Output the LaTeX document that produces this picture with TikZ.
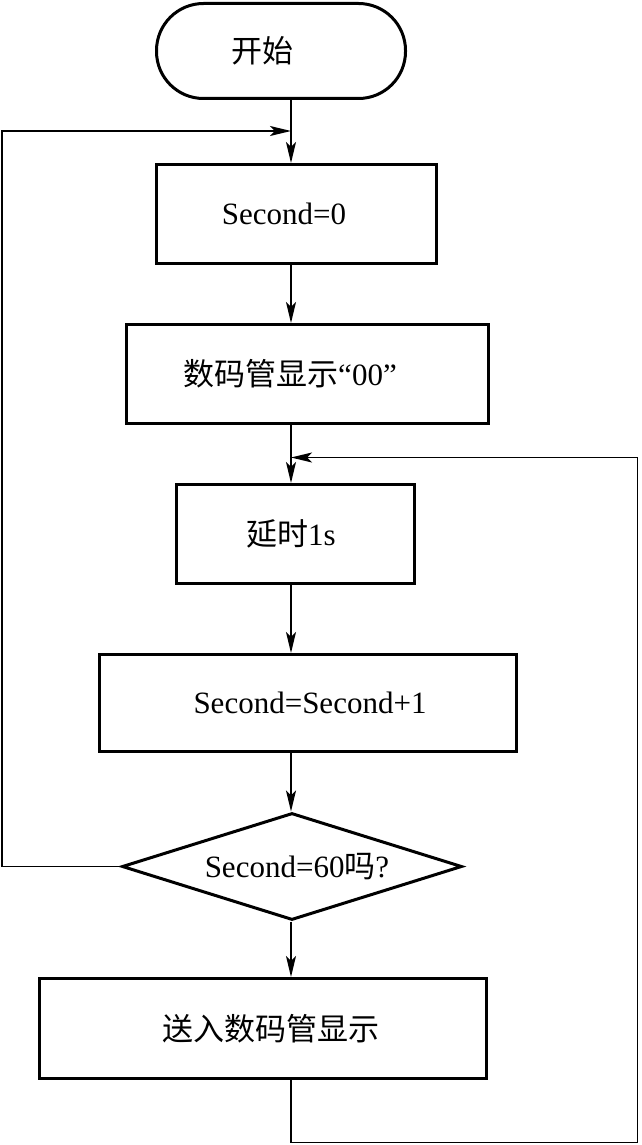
\documentclass[tikz,border=0pt]{standalone}
\usepackage{fontspec}
\setmainfont{Liberation Serif}
\newfontfamily\cjk{Noto Sans CJK SC}
\usetikzlibrary{shapes.geometric,arrows.meta}
\begin{document}
\begin{tikzpicture}[x=1pt,y=-1pt,
  every node/.style={font=\fontsize{31}{34}\selectfont, inner sep=0pt},
  box/.style={draw, line width=3pt, rectangle},
  term/.style={draw, line width=3pt, rectangle, rounded corners=47pt},
  dec/.style={draw, line width=3pt, diamond, aspect=3.18},
  arr/.style={line width=1.8pt, -{Stealth[length=21pt,width=10pt,inset=5pt]}}
]
\useasboundingbox (0,0) rectangle (641,1145);
\fill[white] (0,0) rectangle (641,1145);

\node[term, minimum width=249pt, minimum height=95pt] (start) at (281,51) {\kern-37pt{\cjk 开始}};
\node[box, minimum width=280pt, minimum height=99pt] (b1) at (296.5,214) {\kern-25pt Second=0};
\node[box, minimum width=362pt, minimum height=99pt] (b2) at (307.5,374) {\kern-35pt{\cjk 数码管显示}“00”};
\node[box, minimum width=238pt, minimum height=99pt] (b3) at (295.5,534) {\kern-9pt{\cjk 延时}1s};
\node[box, minimum width=417pt, minimum height=97pt] (b4) at (308,703) {\kern4pt Second=Second+1};
\node[dec, minimum width=340pt, minimum height=107pt] (d) at (292,866.5) {\kern10pt Second=60{\cjk 吗}?};
\node[box, minimum width=447pt, minimum height=100pt] (b5) at (263,1028.5) {\kern16pt{\cjk 送入数码管显示}};

\coordinate (cx) at (291,0);
\coordinate (j1) at (291,131);
\coordinate (j2) at (291,457.5);
\coordinate (lt) at (2,131);
\coordinate (lb) at (2,866.5);
\coordinate (rb) at (637.5,1142.5);
\coordinate (rt) at (637.5,457.5);
\coordinate (bb) at (291,1142.5);

\draw[arr] (start.south -| cx) -- (b1.north -| cx);
\draw[arr] (b1.south -| cx) -- (b2.north -| cx);
\draw[arr] (b2.south -| cx) -- (b3.north -| cx);
\draw[arr] (b3.south -| cx) -- (b4.north -| cx);
\draw[arr] (b4.south -| cx) -- (d.north -| cx);
\draw[arr] (d.south -| cx) -- (b5.north -| cx);

\draw[arr] (d.west) -- (lb) -- (lt) -- (j1);
\draw[arr] (b5.south -| cx) -- (bb) -- (rb) -- (rt) -- (j2);
\end{tikzpicture}
\end{document}
